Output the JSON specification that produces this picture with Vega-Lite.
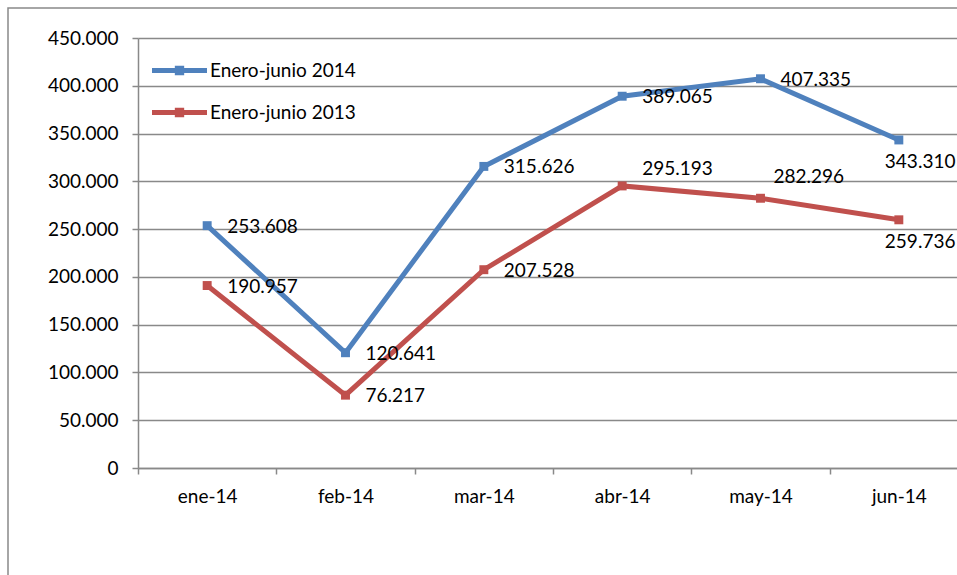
{
  "$schema": "https://vega.github.io/schema/vega-lite/v6.json",
  "width": 990,
  "height": 600,
  "autosize": {"type": "none"},
  "padding": {"left": 8, "top": 8, "right": 0, "bottom": 0},
  "background": "white",
  "config": {
    "locale": {"number": {"decimal": ",", "thousands": ".", "grouping": [3], "currency": ["", " €"]}},
    "view": {"stroke": "#898989", "strokeWidth": 1.5},
    "font": "Lato",
    "axis": {
      "domainColor": "#898989", "domainWidth": 1.5,
      "tickColor": "#898989", "tickWidth": 1.5, "tickSize": 6,
      "gridColor": "#898989", "gridWidth": 1.5,
      "labelFont": "Lato", "labelFontSize": 19, "labelColor": "black",
      "title": null
    },
    "legend": {"labelFont": "Lato", "labelFontSize": 19, "labelColor": "black"}
  },
  "data": {
    "values": [
      {"mes": "ene-14", "serie": "Enero-junio 2014", "valor": 253608},
      {"mes": "feb-14", "serie": "Enero-junio 2014", "valor": 120641},
      {"mes": "mar-14", "serie": "Enero-junio 2014", "valor": 315626},
      {"mes": "abr-14", "serie": "Enero-junio 2014", "valor": 389065},
      {"mes": "may-14", "serie": "Enero-junio 2014", "valor": 407335},
      {"mes": "jun-14", "serie": "Enero-junio 2014", "valor": 343310},
      {"mes": "ene-14", "serie": "Enero-junio 2013", "valor": 190957},
      {"mes": "feb-14", "serie": "Enero-junio 2013", "valor": 76217},
      {"mes": "mar-14", "serie": "Enero-junio 2013", "valor": 207528},
      {"mes": "abr-14", "serie": "Enero-junio 2013", "valor": 295193},
      {"mes": "may-14", "serie": "Enero-junio 2013", "valor": 282296},
      {"mes": "jun-14", "serie": "Enero-junio 2013", "valor": 259736}
    ]
  },
  "encoding": {
    "x": {
      "field": "mes", "type": "ordinal",
      "sort": ["ene-14", "feb-14", "mar-14", "abr-14", "may-14", "jun-14"],
      "scale": {"type": "band", "paddingInner": 0, "paddingOuter": 0, "range": [130, 960]},
      "axis": {"orient": "bottom", "offset": -140, "tickBand": "extent", "labelAngle": 0, "labelPadding": 13, "grid": false}
    },
    "y": {
      "field": "valor", "type": "quantitative",
      "scale": {"domain": [0, 450000], "nice": false, "range": [460, 30]},
      "axis": {"orient": "left", "offset": -130, "values": [0, 50000, 100000, 150000, 200000, 250000, 300000, 350000, 400000, 450000], "format": ",d", "grid": true, "labelPadding": 14}
    },
    "color": {
      "field": "serie", "type": "nominal",
      "scale": {"domain": ["Enero-junio 2014", "Enero-junio 2013"], "range": ["#4F81BD", "#C0504D"]},
      "legend": {
        "title": null, "orient": "none", "legendX": 144, "legendY": 35,
        "symbolType": "M-1,-0.09H1V0.09H-1Z M-0.17,-0.17H0.17V0.17H-0.17Z",
        "symbolSize": 3025, "symbolStrokeWidth": 0, "symbolOpacity": 1,
        "labelOffset": 3, "rowPadding": 4,
        "encode": {"symbols": {"update": {"fill": {"scale": "color", "field": "value"}, "stroke": {"value": "transparent"}, "opacity": {"value": 1}}}}
      }
    }
  },
  "layer": [
    {
      "mark": {"type": "line", "strokeWidth": 5}
    },
    {
      "mark": {"type": "point", "shape": "square", "filled": true, "opacity": 1, "size": 80}
    },
    {
      "transform": [{"filter": "!((datum.serie == 'Enero-junio 2013' && (datum.mes == 'abr-14' || datum.mes == 'may-14')) || datum.mes == 'jun-14')"}],
      "mark": {"type": "text", "align": "left", "baseline": "middle", "dx": 20, "dy": 1, "fontSize": 19, "font": "Lato"},
      "encoding": {"text": {"field": "valor", "type": "quantitative", "format": ",d"}, "color": {"value": "black"}}
    },
    {
      "transform": [{"filter": "datum.serie == 'Enero-junio 2013' && datum.mes == 'abr-14'"}],
      "mark": {"type": "text", "align": "left", "baseline": "middle", "dx": 20, "dy": -17, "fontSize": 19, "font": "Lato"},
      "encoding": {"text": {"field": "valor", "type": "quantitative", "format": ",d"}, "color": {"value": "black"}}
    },
    {
      "transform": [{"filter": "datum.serie == 'Enero-junio 2013' && datum.mes == 'may-14'"}],
      "mark": {"type": "text", "align": "left", "baseline": "middle", "dx": 13, "dy": -21, "fontSize": 19, "font": "Lato"},
      "encoding": {"text": {"field": "valor", "type": "quantitative", "format": ",d"}, "color": {"value": "black"}}
    },
    {
      "transform": [{"filter": "datum.mes == 'jun-14'"}],
      "mark": {"type": "text", "align": "left", "baseline": "middle", "dx": -14, "dy": 22, "fontSize": 19, "font": "Lato"},
      "encoding": {"text": {"field": "valor", "type": "quantitative", "format": ",d"}, "color": {"value": "black"}}
    }
  ]
}
